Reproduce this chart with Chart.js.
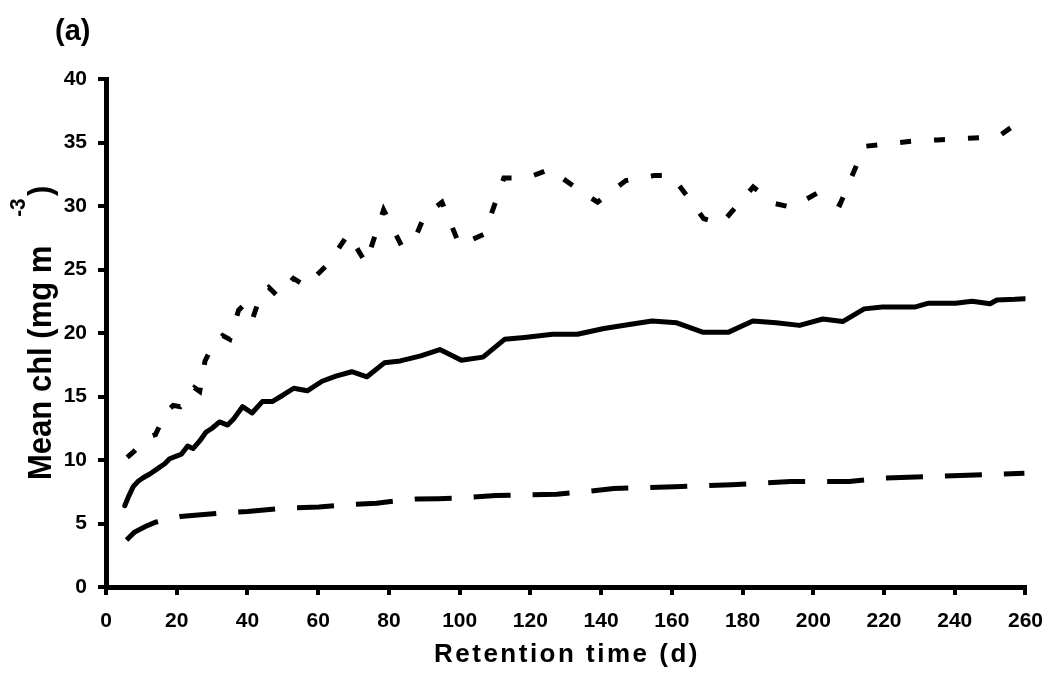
<!DOCTYPE html>
<html lang="en">
<head>
    <meta charset="UTF-8">
    <title>Mean chl vs retention time</title>
    <style>
        body { margin: 0; background: #fff; }
        #chart { display: block; }
    </style>
</head>
<body>
    <canvas id="chart" width="1057" height="697"></canvas>

    <script src="https://cdn.jsdelivr.net/npm/chart.js"></script>
    <script>
        // Solid line
        var timesSolid = [5.3, 6.5, 7.7, 9, 10.5, 12.4, 14.5, 16.6, 18, 19.9, 21.3, 23.1, 24.6, 26.5, 28.3, 30, 32.1, 34.4, 36, 38.6, 41.3, 44.2, 47, 50, 53.1, 56.9, 61.1, 65, 69.5, 73.8, 78.7, 83.2, 89, 94.4, 100.5, 106.6, 112.7, 118.3, 126.3, 133.3, 140.8, 147.5, 154.4, 161.4, 168.9, 175.9, 182.9, 189.5, 196.1, 202.7, 208.3, 214.4, 219.5, 228.9, 232.6, 240.2, 244.9, 250, 251.9, 257, 259.8];
        var chlSolid = [6.4, 7.2, 7.9, 8.3, 8.6, 8.9, 9.3, 9.7, 10.1, 10.3, 10.45, 11.1, 10.9, 11.5, 12.2, 12.5, 13.0, 12.75, 13.2, 14.2, 13.7, 14.6, 14.6, 15.1, 15.65, 15.45, 16.2, 16.6, 16.95, 16.55, 17.65, 17.8, 18.2, 18.7, 17.85, 18.1, 19.5, 19.65, 19.9, 19.9, 20.35, 20.65, 20.95, 20.8, 20.05, 20.05, 20.95, 20.8, 20.6, 21.1, 20.9, 21.9, 22.05, 22.05, 22.35, 22.35, 22.5, 22.3, 22.6, 22.65, 22.7];

        // Dotted line (upper)
        var timesDotted = [6, 8, 10, 12, 14, 17, 19, 21, 23, 25, 26.5, 28, 30, 33, 35, 37.5, 39, 41.3, 44, 46, 48.5, 53, 56.5, 63, 68.5, 73.5, 78.5, 83.5, 87, 90, 95, 100, 107, 112.5, 119, 125.5, 133, 139, 147, 155, 160, 169, 174, 183, 189, 194, 201, 207.5, 214.5, 221, 228, 235, 242, 248, 253, 256, 260];
        var chlDotted = [10.2, 10.7, 11.3, 11.8, 12.0, 13.8, 14.3, 14.2, 15.0, 15.7, 15.4, 17.8, 18.9, 19.8, 19.5, 21.8, 22.2, 21.0, 23.2, 23.6, 22.9, 24.3, 23.7, 25.5, 27.8, 25.5, 29.7, 26.9, 27.2, 29.2, 30.3, 26.9, 27.8, 32.2, 32.2, 32.9, 31.4, 30.3, 32.0, 32.4, 32.4, 29.0, 28.6, 31.5, 30.2, 29.9, 31.0, 30.1, 34.7, 34.9, 35.1, 35.2, 35.3, 35.4, 35.6, 36.2, 35.9];

        // Dashed line (lower)
        var timesDashed = [5.8, 8, 11, 14, 17.4, 21, 27.7, 34.2, 40, 43.9, 50, 60.2, 67, 76.5, 82.6, 87.7, 94.1, 100, 110.2, 127.5, 135, 143.6, 160.8, 176.9, 193.6, 210.2, 218, 226.9, 243.6, 259.7];
        var chlDashed = [3.7, 4.3, 4.75, 5.1, 5.35, 5.55, 5.7, 5.85, 5.95, 6.05, 6.2, 6.3, 6.45, 6.6, 6.8, 6.93, 6.95, 7.0, 7.2, 7.3, 7.5, 7.75, 7.9, 8.05, 8.3, 8.3, 8.55, 8.64, 8.8, 8.95];

        var xTicks = [0, 20, 40, 60, 80, 100, 120, 140, 160, 180, 200, 220, 240, 260];
        var yTicks = [0, 5, 10, 15, 20, 25, 30, 35, 40];

        var FONT = '"Liberation Sans", Arial, sans-serif';

        function puntos(xs, ys) {
            return xs.map(function(x, i) { return { x: x, y: ys[i] }; });
        }

        // Titles drawn by hand (superscript in y title)
        var titulos = {
            id: 'titulos',
            afterDraw: function(chart) {
                var ctx = chart.ctx;
                ctx.save();
                ctx.fillStyle = '#000';
                ctx.textBaseline = 'alphabetic';

                ctx.font = 'bold 29px ' + FONT;
                ctx.textAlign = 'left';
                ctx.fillText('(a)', 55, 40);

                // x title
                ctx.font = 'bold 26px ' + FONT;
                ctx.letterSpacing = '2.5px';
                var txt = 'Retention time (d)';
                var w = ctx.measureText(txt).width - 2.5;
                var cx = (chart.chartArea.left + chart.chartArea.right) / 2;
                ctx.fillText(txt, cx - w / 2, 662);
                ctx.letterSpacing = '0px';

                // y title, a bit taller glyphs than plain Arial
                ctx.translate(51, 480);
                ctx.rotate(-Math.PI / 2);
                ctx.scale(0.94, 1);
                ctx.font = 'bold 33px ' + FONT;
                ctx.fillText('Mean chl (mg m', 0, 0);
                ctx.font = 'bold 22px ' + FONT;
                ctx.fillText('-3', 280, -26);
                ctx.font = 'bold 33px ' + FONT;
                ctx.fillText(')', 302, 0);
                ctx.restore();
            }
        };

        var chart = new Chart(document.getElementById('chart'), {
            type: 'line',
            data: {
                datasets: [
                    {
                        label: 'dotted',
                        data: puntos(timesDotted, chlDotted),
                        borderColor: '#000',
                        borderWidth: 5,
                        borderDash: [11, 23],
                        pointRadius: 0,
                        tension: 0
                    },
                    {
                        label: 'solid',
                        data: puntos(timesSolid, chlSolid),
                        borderColor: '#000',
                        borderWidth: 5,
                        borderJoinStyle: 'round',
                        borderCapStyle: 'round',
                        pointRadius: 0,
                        tension: 0
                    },
                    {
                        label: 'dashed',
                        data: puntos(timesDashed, chlDashed),
                        borderColor: '#000',
                        borderWidth: 5,
                        borderDash: [37, 22],
                        pointRadius: 0,
                        tension: 0
                    }
                ]
            },
            options: {
                responsive: false,
                devicePixelRatio: 1,
                animation: false,
                layout: { padding: { left: 0, top: 79, right: 26, bottom: 0 } },
                plugins: {
                    legend: { display: false },
                    tooltip: { enabled: false }
                },
                scales: {
                    x: {
                        type: 'linear',
                        min: 0,
                        max: 260,
                        afterBuildTicks: function(scale) {
                            scale.ticks = xTicks.map(function(v) { return { value: v }; });
                        },
                        afterFit: function(scale) { scale.height = 110; },
                        ticks: {
                            color: '#000',
                            padding: 14,
                            maxRotation: 0,
                            font: { family: FONT, size: 21, weight: 'bold' }
                        },
                        grid: {
                            drawOnChartArea: false,
                            color: '#000',
                            lineWidth: 4,
                            tickLength: 8
                        },
                        border: { color: '#000', width: 5 }
                    },
                    y: {
                        min: 0,
                        max: 40,
                        afterBuildTicks: function(scale) {
                            scale.ticks = yTicks.map(function(v) { return { value: v }; });
                        },
                        afterFit: function(scale) { scale.width = 106; },
                        ticks: {
                            color: '#000',
                            padding: 11,
                            font: { family: FONT, size: 21, weight: 'bold' }
                        },
                        grid: {
                            drawOnChartArea: false,
                            color: '#000',
                            lineWidth: 4,
                            tickLength: 8
                        },
                        border: { color: '#000', width: 5 }
                    }
                }
            },
            plugins: [titulos]
        });
    </script>
</body>
</html>
